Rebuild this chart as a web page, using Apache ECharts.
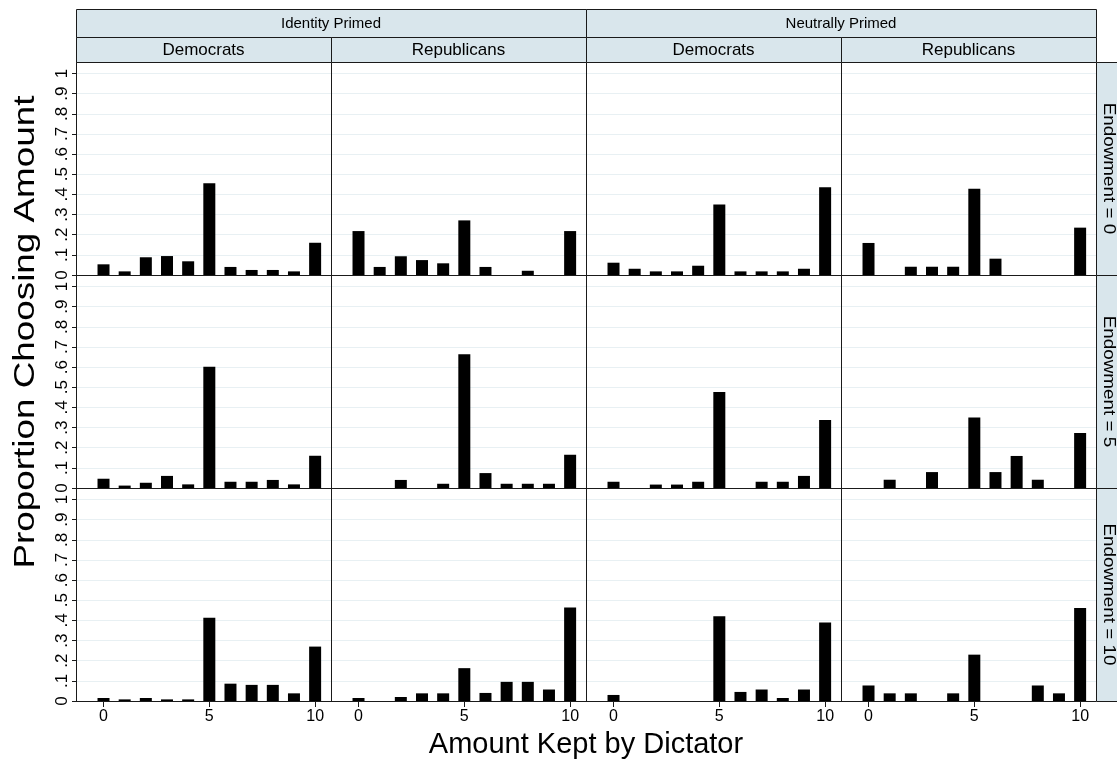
<!DOCTYPE html>
<html>
<head>
<meta charset="utf-8">
<title>Amount Kept by Dictator</title>
<script src="https://cdn.jsdelivr.net/npm/echarts@6/dist/echarts.min.js"></script>
<style>
  html, body { margin: 0; padding: 0; background: #fff; }
  #chart { width: 1117px; height: 764px; }
</style>
</head>
<body>
<div id="chart"></div>
<script>
// Amount kept (0..10) and proportion of dictators choosing each amount
const kept = [0, 1, 2, 3, 4, 5, 6, 7, 8, 9, 10];
const primeLabels = ['Identity Primed', 'Neutrally Primed'];
const partyLabels = ['Democrats', 'Republicans'];
const endowmentLabels = ['Endowment = 0', 'Endowment = 5', 'Endowment = 10'];
const yTicks = [0, 0.1, 0.2, 0.3, 0.4, 0.5, 0.6, 0.7, 0.8, 0.9, 1];
const yTickLabels = ['0', '.1', '.2', '.3', '.4', '.5', '.6', '.7', '.8', '.9', '1'];
const xTicks = [0, 5, 10];

// Endowment = 0
const identityDemE0 = [0.053, 0.018, 0.088, 0.094, 0.068, 0.455, 0.040, 0.025, 0.025, 0.018, 0.160];
const identityRepE0 = [0.218, 0.040, 0.093, 0.074, 0.058, 0.271, 0.040, 0, 0.021, 0, 0.218];
const neutralDemE0  = [0.061, 0.031, 0.018, 0.018, 0.046, 0.350, 0.018, 0.018, 0.018, 0.031, 0.435];
const neutralRepE0  = [0.159, 0, 0.041, 0.041, 0.041, 0.428, 0.081, 0, 0, 0, 0.235];
// Endowment = 5
const identityDemE5 = [0.046, 0.012, 0.026, 0.060, 0.018, 0.602, 0.031, 0.031, 0.040, 0.018, 0.160];
const identityRepE5 = [0, 0, 0.040, 0, 0.021, 0.664, 0.074, 0.021, 0.021, 0.021, 0.165];
const neutralDemE5  = [0.031, 0, 0.017, 0.017, 0.031, 0.476, 0, 0.031, 0.031, 0.060, 0.337];
const neutralRepE5  = [0, 0.041, 0, 0.079, 0, 0.350, 0.079, 0.159, 0.041, 0, 0.273];
// Endowment = 10
const identityDemE10 = [0.015, 0.008, 0.015, 0.008, 0.008, 0.413, 0.086, 0.080, 0.080, 0.038, 0.270];
const identityRepE10 = [0.015, 0, 0.020, 0.038, 0.038, 0.163, 0.040, 0.095, 0.095, 0.057, 0.464];
const neutralDemE10  = [0.030, 0, 0, 0, 0, 0.420, 0.045, 0.057, 0.015, 0.057, 0.390];
const neutralRepE10  = [0.077, 0.038, 0.038, 0, 0.038, 0.230, 0, 0, 0.077, 0.038, 0.462];

const panels = [
  [identityDemE0, identityRepE0, neutralDemE0, neutralRepE0],
  [identityDemE5, identityRepE5, neutralDemE5, neutralRepE5],
  [identityDemE10, identityRepE10, neutralDemE10, neutralRepE10]
];

const FONT = "'Liberation Sans', Arial, Helvetica, sans-serif";
const plotLeft = 76, plotTop = 62, colW = 255, rowH = 213;
const nRows = 3, nCols = 4;
const stripFill = '#d9e6ec', frame = '#1a1a1a', gridColor = '#e8f0f3';

const grids = [], xAxes = [], yAxes = [], series = [];
for (let r = 0; r < nRows; r++) {
  for (let c = 0; c < nCols; c++) {
    const idx = r * nCols + c;
    const bottomRow = r === nRows - 1;
    const firstCol = c === 0;
    grids.push({ left: plotLeft + c * colW, top: plotTop + r * rowH, width: colW, height: rowH, containLabel: false });
    xAxes.push({
      type: 'value', gridIndex: idx, min: -1.3, max: 10.75,
      axisLine: { show: true, onZero: false, lineStyle: { color: frame, width: 1 } },
      axisTick: { show: bottomRow, customValues: xTicks, length: 6, lineStyle: { color: frame } },
      axisLabel: { show: bottomRow, customValues: xTicks, fontSize: 16, color: '#000', fontFamily: FONT, margin: 8 },
      splitLine: { show: false }
    });
    yAxes.push({
      type: 'value', gridIndex: idx, min: 0, max: 1.057, interval: 0.1,
      axisLine: { show: true, onZero: false, lineStyle: { color: frame, width: 1 } },
      axisTick: { show: firstCol, customValues: yTicks, length: 4, lineStyle: { color: frame } },
      axisLabel: {
        show: firstCol, customValues: yTicks, rotate: 90, margin: 5,
        fontSize: 17, color: '#000', fontFamily: FONT,
        formatter: v => {
          const i = yTicks.findIndex(t => Math.abs(t - v) < 1e-6);
          return i >= 0 ? yTickLabels[i] : '';
        }
      },
      splitLine: { show: true, lineStyle: { color: gridColor, width: 1 } }
    });
    series.push({
      type: 'bar', xAxisIndex: idx, yAxisIndex: idx,
      data: kept.map((k, i) => [k, panels[r][c][i]]),
      barWidth: 12, silent: true,
      itemStyle: { color: '#000' }
    });
  }
}

// Facet strips: two header levels on top, endowment strips on the right
const graphics = [];
const plotRight = plotLeft + nCols * colW;
const rect = (x, y, w, h) => ({
  type: 'rect', z: 100, shape: { x: x + 0.5, y: y + 0.5, width: w, height: h },
  style: { fill: stripFill, stroke: frame, lineWidth: 1 }
});
const label = (x, y, text, size, rotation, stretch) => ({
  type: 'text', z: 101, x: x, y: y, rotation: rotation || 0, scaleX: stretch || 1,
  style: { text: text, fill: '#000', font: size + 'px ' + FONT, align: 'center', verticalAlign: 'middle' }
});
primeLabels.forEach((p, i) => {
  const x = plotLeft + i * 2 * colW;
  graphics.push(rect(x, 9, 2 * colW, 28));
  graphics.push(label(x + colW, 23.5, p, 15));
});
for (let c = 0; c < nCols; c++) {
  const x = plotLeft + c * colW;
  graphics.push(rect(x, 37, colW, 25));
  graphics.push(label(x + colW / 2, 50, partyLabels[c % 2], 17));
}
endowmentLabels.forEach((e, r) => {
  const y = plotTop + r * rowH;
  graphics.push(rect(plotRight, y, 40, rowH));
  graphics.push(label(plotRight + 12, y + rowH / 2, e, 16, -Math.PI / 2, 1.18));
});
// Shared axis titles
graphics.push(label(26, 332, 'Proportion Choosing Amount', 29, Math.PI / 2, 1.27));
graphics.push(label((plotLeft + plotRight) / 2, 745, 'Amount Kept by Dictator', 29));

const chart = echarts.init(document.getElementById('chart'), null, { renderer: 'canvas' });
chart.setOption({
  animation: false,
  backgroundColor: '#fff',
  grid: grids,
  xAxis: xAxes,
  yAxis: yAxes,
  series: series,
  graphic: graphics
});
</script>
</body>
</html>
